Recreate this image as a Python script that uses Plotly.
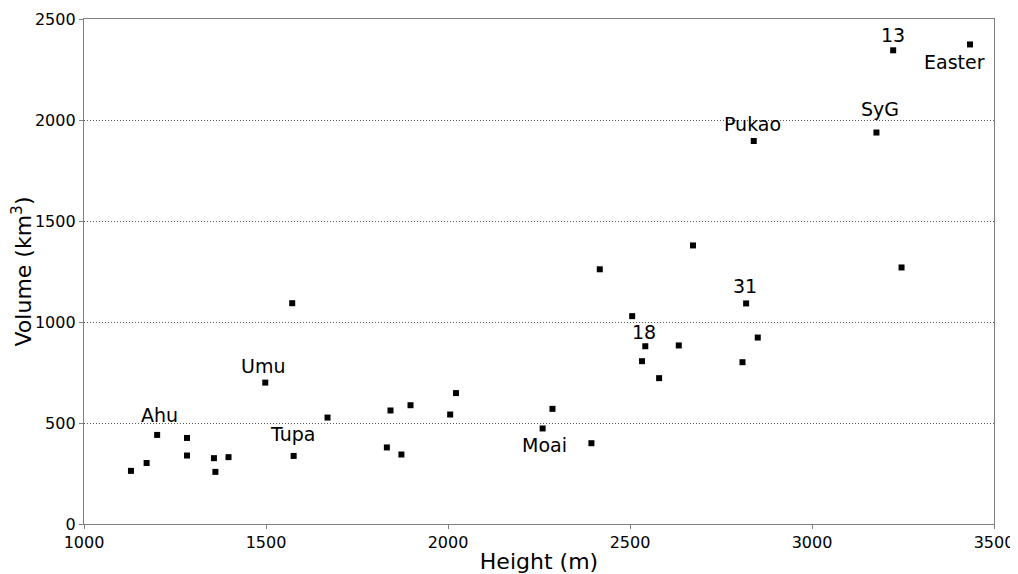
import plotly.graph_objects as go

heights = [1129, 1172, 1201, 1283, 1283, 1357, 1361, 1397, 1498, 1572, 1576, 1669,
           1832, 1842, 1872, 1897, 2006, 2022, 2260, 2287, 2394, 2417, 2506, 2533,
           2542, 2580, 2634, 2673, 2809, 2819, 2840, 2851, 3177, 3223, 3246, 3434]
volumes = [263, 302, 441, 426, 339, 326, 258, 331, 700, 1093, 337, 527,
           379, 562, 344, 588, 542, 648, 473, 570, 400, 1261, 1029, 806,
           880, 722, 884, 1379, 801, 1092, 1896, 923, 1938, 2345, 1270, 2374]

label_names = ["Ahu", "Umu", "Tupa", "Moai", "18", "31", "Pukao", "SyG", "13", "Easter"]
label_index = [2, 8, 10, 18, 24, 29, 30, 32, 33, 35]
label_dx = [2, -2, -1, 2, -1, -1, -1, 4, 0, -15]
label_dy = [-20, -17, -22, 17, -14, -17, -17, -24, -15, 18]

fig = go.Figure()
fig.add_trace(go.Scatter(
    x=heights, y=volumes, mode="markers",
    marker=dict(symbol="square", size=6, color="black"),
    showlegend=False, hoverinfo="x+y"))

for name, i, dx, dy in zip(label_names, label_index, label_dx, label_dy):
    fig.add_annotation(x=heights[i], y=volumes[i], text=name, showarrow=False,
                       xshift=dx, yshift=-dy, xanchor="center", yanchor="middle",
                       font=dict(size=19, color="black", family="DejaVu Sans"))

axis_common = dict(showline=True, mirror=True, linecolor="#7f7f7f", linewidth=1.3,
                   ticks="outside", ticklen=4, tickcolor="#7f7f7f",
                   tickfont=dict(size=16, color="black", family="DejaVu Sans"),
                   zeroline=False, automargin=False)

fig.update_xaxes(range=[1000, 3500], tickvals=[1000, 1500, 2000, 2500, 3000, 3500],
                 showgrid=False,
                 title=dict(text="Height (m)", font=dict(size=22, color="black", family="DejaVu Sans"),
                            standoff=2),
                 **axis_common)
fig.update_yaxes(range=[0, 2500], tickvals=[0, 500, 1000, 1500, 2000, 2500],
                 showgrid=True, gridcolor="#555555", griddash="1px,2px", gridwidth=1,
                 title=dict(text="Volume (km<sup>3</sup>)",
                            font=dict(size=22, color="black", family="DejaVu Sans"),
                            standoff=10),
                 **axis_common)

# the page body adds an 8 px offset, so the figure is sized to fit the window
fig.update_layout(width=1010, height=566,
                  margin=dict(l=76, r=24, t=11, b=50),
                  plot_bgcolor="white", paper_bgcolor="white",
                  font=dict(family="DejaVu Sans"))

fig.write_html("out.html")
